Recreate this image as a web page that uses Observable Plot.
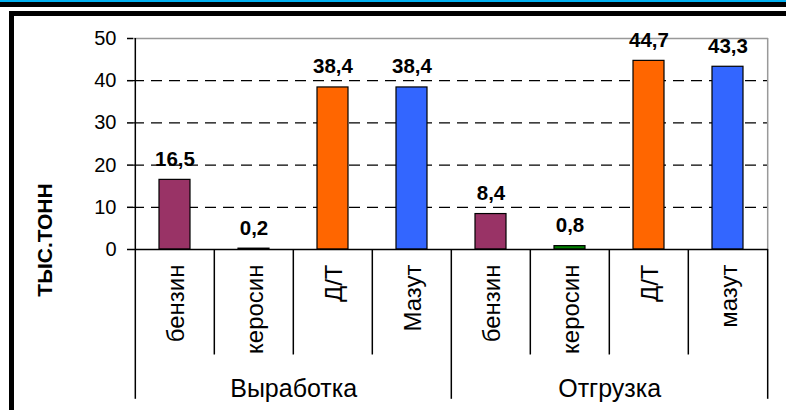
<!DOCTYPE html>
<html>
<head>
<meta charset="utf-8">
<script src="https://cdn.jsdelivr.net/npm/d3@7"></script>
<script src="https://cdn.jsdelivr.net/npm/@observablehq/plot@0.6"></script>
<style>
  html, body { margin: 0; padding: 0; background: #fff; }
  #wrap { position: relative; width: 786px; height: 410px; overflow: hidden; background: #fff;
          font-family: "Liberation Sans", Arial, sans-serif; }
  #wrap svg { position: absolute; left: 0; top: 0; }
  .deco { position: absolute; }
</style>
</head>
<body>
<div id="wrap">
  <div class="deco" style="left:0;top:0;width:786px;height:2px;background:#00B0F0"></div>
  <div class="deco" style="left:0;top:2px;width:786px;height:5px;background:#000"></div>
  <div class="deco" style="left:9px;top:11px;width:777px;height:5px;background:#000"></div>
  <div class="deco" style="left:9px;top:11px;width:5px;height:399px;background:#000"></div>
</div>
<script>
// ---- data ----
const groups = ["Выработка", "Отгрузка"];
const products = [
  ["бензин", "керосин", "Д/Т", "Мазут"],
  ["бензин", "керосин", "Д/Т", "мазут"]
];
const values = [
  [16.5, 0.2, 38.4, 38.4],
  [8.4, 0.8, 44.7, 43.3]
];
const productColors = ["#993366", "#008000", "#FF6600", "#3366FF"];
const yTicks = [0, 10, 20, 30, 40, 50];
const yLabel = "ТЫС.ТОНН";

// ---- table ----
const rows = [];
groups.forEach((g, gi) => {
  products[gi].forEach((p, pi) => {
    rows.push({key: g + "|" + pi, group: g, gi, pi, label: p, value: values[gi][pi], color: productColors[pi]});
  });
});
const keys = rows.map(d => d.key);

const W = 786, H = 410;
const mL = 133, mR = 18, mT = 38, mB = 161;
const step = (W - mL - mR) / keys.length;
const font = "'Liberation Sans', Arial, sans-serif";
const fmt = v => String(v).replace(".", ",");

const groupFirst = rows.filter(d => d.pi === 0);
const innerSeps = rows.filter(d => d.pi !== 0);
const groupMid = rows.filter(d => d.pi === 1);
const lastKey = keys[keys.length - 1];

const chart = Plot.plot({
  width: W, height: H,
  marginLeft: mL, marginRight: mR, marginTop: mT, marginBottom: mB,
  style: {fontFamily: font, background: "transparent", overflow: "visible"},
  x: {type: "band", domain: keys, padding: 0, axis: null},
  y: {domain: [0, 50], axis: null},
  marks: [
    // dashed grid lines
    Plot.ruleY(yTicks.filter(t => t > 0 && t < 50), {stroke: "#000", strokeWidth: 1.2, strokeDasharray: "11,7"}),
    // top and right gray borders
    Plot.ruleY([50], {stroke: "#999", strokeWidth: 1.5}),
    Plot.ruleX([lastKey], {y1: 0, y2: 50, dx: step / 2, stroke: "#999", strokeWidth: 1.5}),
    // y axis line
    Plot.ruleX([keys[0]], {y1: 0, y2: 50, dx: -step / 2, stroke: "#000", strokeWidth: 1.5}),
    // y axis ticks and labels
    Plot.axisY(yTicks, {anchor: "left", tickSize: 6, tickPadding: 11, fontSize: 20, stroke: "#000", strokeWidth: 1.5, color: "#000", label: null, tickFormat: d => d}),
    // bars
    Plot.barY(rows, {x: "key", y: "value", fill: "color", stroke: "#000", strokeWidth: 1.2, insetLeft: 24, insetRight: 24}),
    // zero line
    Plot.ruleY([0], {stroke: "#000", strokeWidth: 1.5}),
    // separators
    Plot.ruleX(innerSeps, {x: "key", y1: 0, y2: -25, dx: -step / 2, stroke: "#000", strokeWidth: 1.5}),
    Plot.ruleX(groupFirst, {x: "key", y1: 0, y2: -35.5, dx: -step / 2, stroke: "#000", strokeWidth: 1.5}),
    Plot.ruleX([lastKey], {y1: 0, y2: -35.5, dx: step / 2, stroke: "#000", strokeWidth: 1.5}),
    // value labels
    Plot.text(rows, {x: "key", y: "value", text: d => fmt(d.value), dy: -14, lineAnchor: "bottom", fontWeight: "bold", fontSize: 20.5, fill: "#000"}),
    // category labels
    Plot.text(rows, {x: "key", y: 0, text: "label", rotate: -90, textAnchor: "end", lineAnchor: "middle", dx: 1, dy: 15, fontSize: 24, fill: "#000"}),
    // group labels
    Plot.text(groupMid, {x: "key", y: 0, text: "group", dx: step / 2, dy: 139, lineAnchor: "middle", fontSize: 25, fill: "#000"}),
    // y label
    Plot.text([yLabel], {frameAnchor: "left", text: d => d, rotate: -90, textAnchor: "middle", dx: -88, dy: 96, lineAnchor: "middle", fontWeight: "bold", fontSize: 21, fill: "#000"})
  ]
});
document.getElementById("wrap").prepend(chart);
</script>
</body>
</html>
